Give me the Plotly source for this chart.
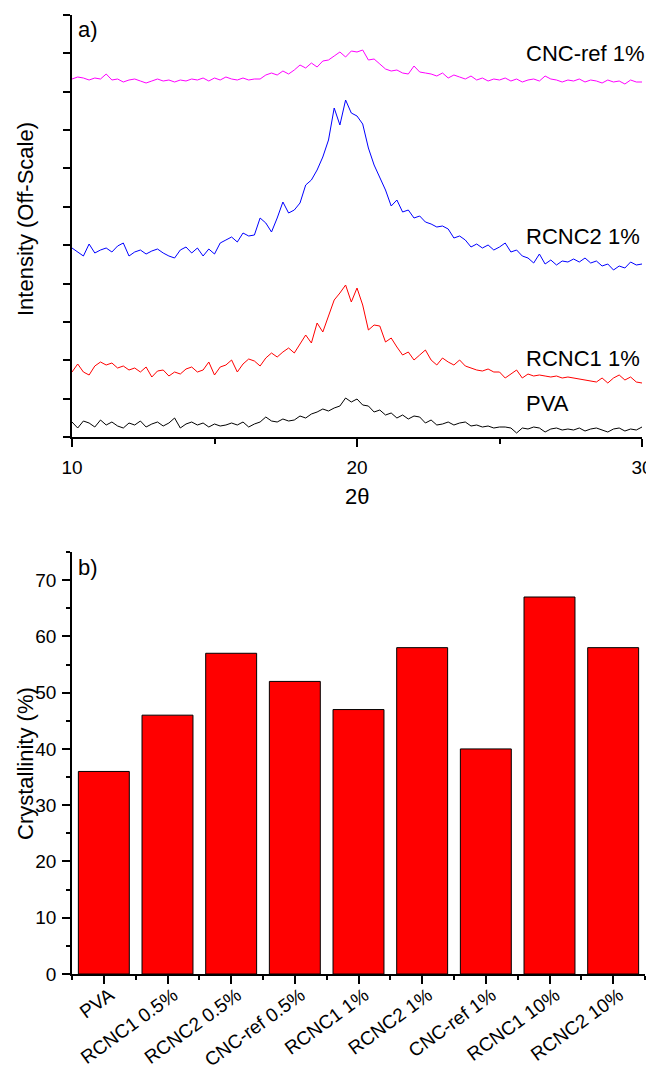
import plotly.graph_objects as go

# ---------------- data ----------------
two_theta = [round(10 + 0.2 * i, 1) for i in range(101)]  # scan grid 10-30 deg, step 0.2

# Intensities (arbitrary, off-scale units, curves stacked)
cnc_ref_1 = [358, 360, 359, 357, 359, 358, 363, 357, 358, 355,
             357, 358, 356, 354, 356, 358, 356, 357, 355, 357,
             356, 358, 357, 359, 356, 359, 357, 360, 358, 357,
             359, 357, 358, 358, 362, 364, 362, 366, 363, 367,
             372, 369, 374, 370, 376, 377, 381, 385, 380, 386,
             385, 387, 377, 378, 373, 368, 366, 367, 364, 363,
             371, 365, 364, 363, 361, 364, 359, 362, 360, 358,
             361, 357, 359, 356, 358, 357, 359, 356, 358, 355,
             357, 358, 356, 361, 358, 357, 355, 357, 356, 358,
             355, 357, 356, 354, 357, 355, 356, 353, 357, 355,
             355]

rcnc2_1 = [189, 185, 181, 193, 184, 187, 189, 185, 191, 194,
           181, 185, 187, 183, 186, 188, 184, 181, 179, 187,
           190, 184, 189, 181, 188, 183, 194, 197, 200, 195,
           204, 201, 202, 219, 214, 205, 219, 235, 224, 227,
           234, 252, 257, 267, 280, 297, 329, 312, 337, 324,
           321, 313, 289, 272, 259, 247, 231, 237, 225, 227,
           219, 221, 215, 213, 210, 211, 208, 199, 201, 197,
           190, 193, 189, 192, 187, 190, 194, 185, 187, 181,
           179, 174, 183, 173, 177, 172, 176, 175, 178, 175,
           179, 174, 176, 171, 173, 167, 171, 169, 175, 172,
           173]

rcnc1_1 = [65, 73, 65, 62, 71, 75, 72, 74, 69, 71,
           67, 69, 65, 70, 60, 66, 67, 61, 65, 63,
           68, 70, 65, 67, 75, 62, 70, 72, 77, 65,
           73, 78, 76, 71, 79, 84, 80, 85, 89, 84,
           93, 102, 94, 114, 105, 122, 137, 144, 152, 135,
           149, 132, 107, 112, 111, 95, 99, 90, 82, 85,
           77, 82, 87, 77, 72, 79, 75, 72, 77, 71,
           69, 67, 66, 68, 65, 65, 59, 63, 67, 59,
           63, 61, 62, 61, 60, 61, 59, 60, 59, 58,
           57, 56, 55, 59, 54, 59, 62, 57, 60, 55,
           54]

pva = [15, 9, 16, 14, 10, 17, 12, 15, 11, 9,
       14, 12, 16, 10, 13, 15, 11, 14, 19, 9,
       13, 15, 12, 14, 10, 13, 11, 12, 14, 12,
       15, 10, 13, 15, 20, 16, 15, 18, 16, 17,
       21, 19, 23, 25, 28, 26, 29, 31, 39, 35,
       38, 32, 31, 25, 27, 22, 24, 19, 22, 18,
       21, 20, 14, 17, 12, 13, 15, 12, 14, 15,
       11, 12, 10, 11, 9, 10, 10, 9, 4, 9,
       8, 10, 9, 5, 8, 9, 7, 8, 7, 9,
       6, 8, 9, 7, 5, 8, 9, 6, 8, 7,
       10]

curve_names = ["CNC-ref 1%", "RCNC2 1%", "RCNC1 1%", "PVA"]
curve_colors = ["#FF00FF", "#0000FF", "#FF0000", "#000000"]

samples = ["PVA", "RCNC1 0.5%", "RCNC2 0.5%", "CNC-ref 0.5%", "RCNC1 1%",
           "RCNC2 1%", "CNC-ref 1%", "RCNC1 10%", "RCNC2 10%"]
crystallinity = [36, 46, 57, 52, 47, 58, 40, 67, 58]

# ---------------- figure ----------------
OFF = 8                      # page body margin of the html page
W, H = 654 - OFF, 1069 - OFF
FONT = "Liberation Sans, Arial, sans-serif"

def px_x(p):
    return (p - OFF) / W

def px_y(p):
    return 1 - (p - OFF) / H

fig = go.Figure()

for vals, name, col in zip([cnc_ref_1, rcnc2_1, rcnc1_1, pva], curve_names, curve_colors):
    fig.add_trace(go.Scatter(x=two_theta, y=vals, mode="lines", name=name,
                             line=dict(color=col, width=1), xaxis="x", yaxis="y"))

fig.add_trace(go.Bar(x=list(range(len(samples))), y=crystallinity, width=0.8,
                     marker=dict(color="#FF0000", line=dict(color="#000000", width=1)),
                     xaxis="x2", yaxis="y2"))

axis_common = dict(showgrid=False, zeroline=False, showline=True, linecolor="black",
                   linewidth=1.5, ticks="outside", tickcolor="black", tickwidth=1.5,
                   automargin=False,
                   tickfont=dict(family=FONT, size=19, color="black"))

fig.update_layout(
    template="none",
    width=W, height=H,
    autosize=False,
    margin=dict(l=0, r=0, t=0, b=0, pad=0),
    paper_bgcolor="white", plot_bgcolor="white",
    showlegend=False,
    font=dict(family=FONT, color="black"),
    xaxis=dict(domain=[px_x(72), px_x(642)], anchor="y", range=[10, 30],
               tickmode="linear", tick0=10, dtick=10, ticklen=8,
               minor=dict(tickmode="linear", tick0=10, dtick=5, ticklen=5,
                          ticks="outside", tickcolor="black", tickwidth=1.5),
               ticklabelstandoff=4, **axis_common),
    yaxis=dict(domain=[px_y(437), px_y(15)], anchor="x", range=[0, 422],
               tickmode="linear", tick0=0, dtick=422 / 11, ticklen=7,
               showticklabels=False, **axis_common),
    xaxis2=dict(domain=[px_x(72), px_x(645)], anchor="y2", range=[-0.5, 8.5],
                tickmode="array", tickvals=list(range(len(samples))), ticktext=samples,
                tickangle=-36, ticklen=8, ticklabelstandoff=-7, ticklabelshift=6,
                minor=dict(tickmode="linear", tick0=-0.5, dtick=1, ticklen=4,
                           ticks="outside", tickcolor="black", tickwidth=1.5),
                **axis_common),
    yaxis2=dict(domain=[px_y(974), px_y(552)], anchor="x2", range=[0, 75],
                tickmode="linear", tick0=0, dtick=10, ticklen=8,
                minor=dict(tickmode="linear", tick0=0, dtick=5, ticklen=4,
                           ticks="outside", tickcolor="black", tickwidth=1.5),
                ticklabelstandoff=2, **axis_common),
)

ann_font = dict(family=FONT, size=22, color="black")
annotations = [
    dict(text="a)", x=px_x(76), y=px_y(29), xanchor="left", yanchor="middle"),
    dict(text="b)", x=px_x(76), y=px_y(567), xanchor="left", yanchor="middle"),
    dict(text="CNC-ref 1%", x=px_x(524), y=px_y(53), xanchor="left", yanchor="middle"),
    dict(text="RCNC2 1%", x=px_x(524), y=px_y(237), xanchor="left", yanchor="middle"),
    dict(text="RCNC1 1%", x=px_x(524), y=px_y(358), xanchor="left", yanchor="middle"),
    dict(text="PVA", x=px_x(524), y=px_y(403), xanchor="left", yanchor="middle"),
    dict(text="Intensity (Off-Scale)", x=px_x(25), y=px_y(219), textangle=-90,
         xanchor="center", yanchor="middle"),
    dict(text="Crystallinity (%)", x=px_x(25), y=px_y(764), textangle=-90,
         xanchor="center", yanchor="middle"),
    dict(text="2θ", x=px_x(357), y=px_y(497), xanchor="center", yanchor="middle"),
]
for a in annotations:
    a.update(xref="paper", yref="paper", showarrow=False, font=ann_font)
fig.update_layout(annotations=annotations)

fig.write_html("out.html")
